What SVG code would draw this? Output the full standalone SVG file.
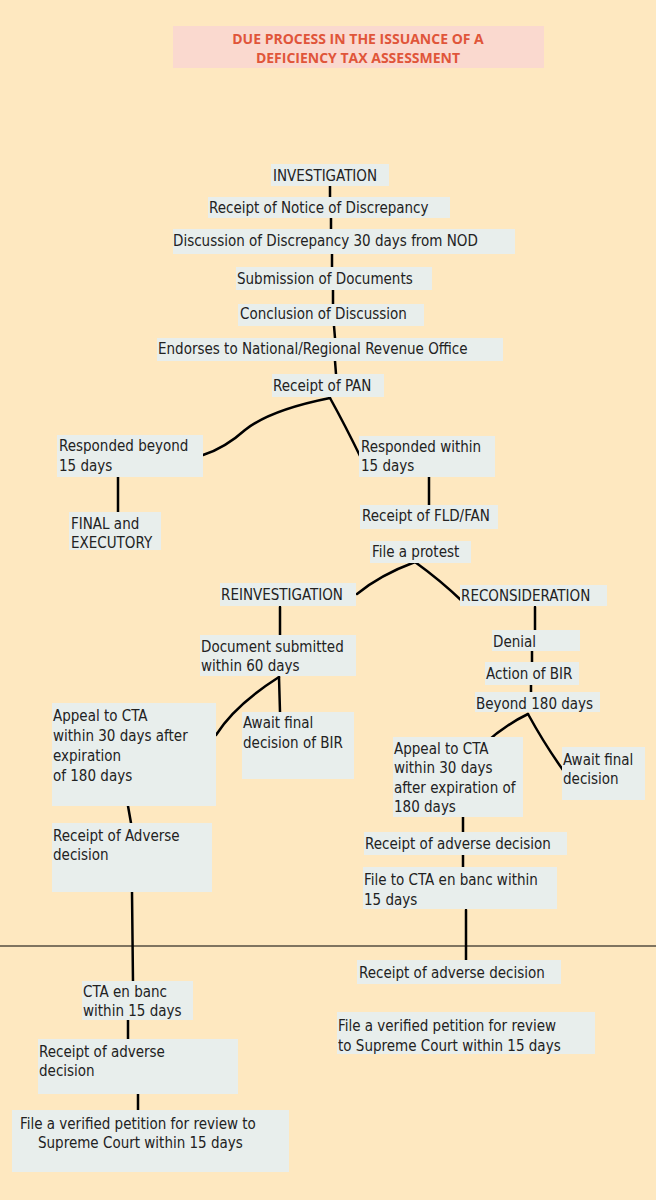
<svg xmlns="http://www.w3.org/2000/svg" width="656" height="1200" viewBox="0 0 656 1200">
<style>
.b{fill:#E8EEEC}
text{font-family:"Liberation Sans Narrow","DejaVu Sans Condensed","Liberation Sans",sans-serif;font-size:15px;fill:#222}
.t{font-family:"Open Sans","Liberation Sans",sans-serif;font-size:14px;font-weight:bold;fill:#E0553A;text-anchor:middle}
.c path,.c line{stroke:#000;stroke-width:2.5;fill:none;stroke-linecap:round}
</style>
<rect width="656" height="1200" fill="#FEE8C0"/>
<g id="title"><rect x="173" y="26" width="371" height="42" fill="#FAD9CF"/><text class="t" x="358" y="44">DUE PROCESS IN THE ISSUANCE OF A</text><text class="t" x="358" y="63">DEFICIENCY TAX ASSESSMENT</text></g>
<line x1="0" y1="946" x2="656" y2="946" stroke="#000" stroke-width="1"/>
<g class="c">
<line x1="330" y1="186" x2="330" y2="197"/><line x1="331" y1="218" x2="331" y2="230"/><line x1="332" y1="254" x2="332" y2="268"/><line x1="333" y1="290" x2="333" y2="304"/><line x1="334" y1="326" x2="335" y2="338"/><line x1="335" y1="361" x2="336" y2="374"/>
<path d="M330 398 Q270 410 245 430 Q225 448 203 455"/><path d="M330 398 Q345 425 362 460"/>
<line x1="118" y1="470" x2="118" y2="512"/><line x1="429" y1="477" x2="429" y2="505"/>
<path d="M415 562 Q380 575 357 594"/><path d="M415 562 Q440 580 462 601"/>
<line x1="280" y1="607" x2="280" y2="635"/><line x1="535" y1="607" x2="535" y2="630"/><line x1="532" y1="651" x2="532" y2="662"/><line x1="531" y1="685" x2="531" y2="692"/>
<path d="M279 677 Q235 705 216 735"/><line x1="279" y1="677" x2="280" y2="712"/>
<path d="M528 714 Q505 725 483 745"/><path d="M528 714 Q545 745 563 770"/>
<line x1="128" y1="806" x2="131" y2="823"/><line x1="132" y1="892" x2="133" y2="983"/>
<line x1="463" y1="817" x2="463" y2="832"/><line x1="463" y1="855" x2="463" y2="868"/><line x1="466" y1="910" x2="466" y2="960"/>
<line x1="128" y1="1020" x2="128" y2="1039"/><line x1="138" y1="1094" x2="138" y2="1110"/>
</g>
<g id="n1"><rect class="b" x="271" y="164" width="118" height="22"/><text x="273" y="181">INVESTIGATION</text></g>
<g id="n2"><rect class="b" x="208" y="197" width="242" height="21"/><text x="209" y="213">Receipt of Notice of Discrepancy</text></g>
<g id="n3"><rect class="b" x="173" y="229" width="342" height="25"/><text x="173" y="246">Discussion of Discrepancy 30 days  from NOD</text></g>
<g id="n4"><rect class="b" x="236" y="267" width="196" height="23"/><text x="237" y="284">Submission of Documents</text></g>
<g id="n5"><rect class="b" x="238" y="304" width="186" height="22"/><text x="240" y="319">Conclusion of Discussion</text></g>
<g id="n6"><rect class="b" x="157" y="338" width="346" height="23"/><text x="158" y="354">Endorses to National/Regional Revenue Office</text></g>
<g id="n7"><rect class="b" x="272" y="374" width="112" height="23"/><text x="273" y="391">Receipt of PAN</text></g>
<g id="n8"><rect class="b" x="57" y="435" width="146" height="42"/><text x="59" y="451">Responded beyond</text><text x="59" y="471">15 days</text></g>
<g id="n9"><rect class="b" x="359" y="436" width="136" height="41"/><text x="361" y="452">Responded within</text><text x="361" y="471">15 days</text></g>
<g id="n10"><rect class="b" x="69" y="512" width="92" height="38"/><text x="71" y="529">FINAL and</text><text x="71" y="548">EXECUTORY</text></g>
<g id="n11"><rect class="b" x="360" y="505" width="138" height="24"/><text x="362" y="521">Receipt of FLD/FAN</text></g>
<g id="n12"><rect class="b" x="370" y="541" width="101" height="22"/><text x="372" y="557">File a protest</text></g>
<g id="n13"><rect class="b" x="220" y="583" width="136" height="23"/><text x="221" y="600">REINVESTIGATION</text></g>
<g id="n14"><rect class="b" x="460" y="585" width="147" height="21"/><text x="461" y="601">RECONSIDERATION</text></g>
<g id="n15"><rect class="b" x="200" y="635" width="156" height="41"/><text x="201" y="652">Document submitted</text><text x="201" y="671">within 60 days</text></g>
<g id="n16"><rect class="b" x="492" y="630" width="88" height="21"/><text x="493" y="647">Denial</text></g>
<g id="n17"><rect class="b" x="485" y="662" width="94" height="23"/><text x="486" y="679">Action of BIR</text></g>
<g id="n18"><rect class="b" x="475" y="692" width="125" height="20"/><text x="476" y="709">Beyond 180 days</text></g>
<g id="n19"><rect class="b" x="52" y="703" width="164" height="103"/><text x="53" y="721">Appeal to CTA</text><text x="53" y="741">within 30 days after</text><text x="53" y="761">expiration</text><text x="53" y="781">of 180 days</text></g>
<g id="n20"><rect class="b" x="242" y="712" width="112" height="67"/><text x="243" y="728">Await final</text><text x="243" y="748">decision of BIR</text></g>
<g id="n21"><rect class="b" x="393" y="737" width="130" height="80"/><text x="394" y="754">Appeal to CTA</text><text x="394" y="773">within 30 days</text><text x="394" y="793">after expiration of</text><text x="394" y="812">180 days</text></g>
<g id="n22"><rect class="b" x="562" y="747" width="83" height="53"/><text x="563" y="765">Await final</text><text x="563" y="784">decision</text></g>
<g id="n23"><rect class="b" x="52" y="823" width="160" height="69"/><text x="53" y="841">Receipt of Adverse</text><text x="53" y="860">decision</text></g>
<g id="n24"><rect class="b" x="364" y="832" width="203" height="23"/><text x="365" y="849">Receipt of adverse decision</text></g>
<g id="n25"><rect class="b" x="363" y="867" width="194" height="42"/><text x="364" y="885">File to CTA en banc within</text><text x="364" y="905">15 days</text></g>
<g id="n26"><rect class="b" x="357" y="960" width="204" height="24"/><text x="359" y="978">Receipt of adverse decision</text></g>
<g id="n27"><rect class="b" x="337" y="1012" width="258" height="42"/><text x="338" y="1031">File a verified petition for review</text><text x="338" y="1051">to Supreme Court within 15 days</text></g>
<g id="n28"><rect class="b" x="82" y="981" width="111" height="39"/><text x="83" y="997">CTA en banc</text><text x="83" y="1016">within 15 days</text></g>
<g id="n29"><rect class="b" x="38" y="1039" width="200" height="55"/><text x="39" y="1057">Receipt of adverse</text><text x="39" y="1076">decision</text></g>
<g id="n30"><rect class="b" x="12" y="1110" width="277" height="62"/><text x="20" y="1129">File a verified petition for review to</text><text x="38" y="1148">Supreme Court within 15 days</text></g>
</svg>
